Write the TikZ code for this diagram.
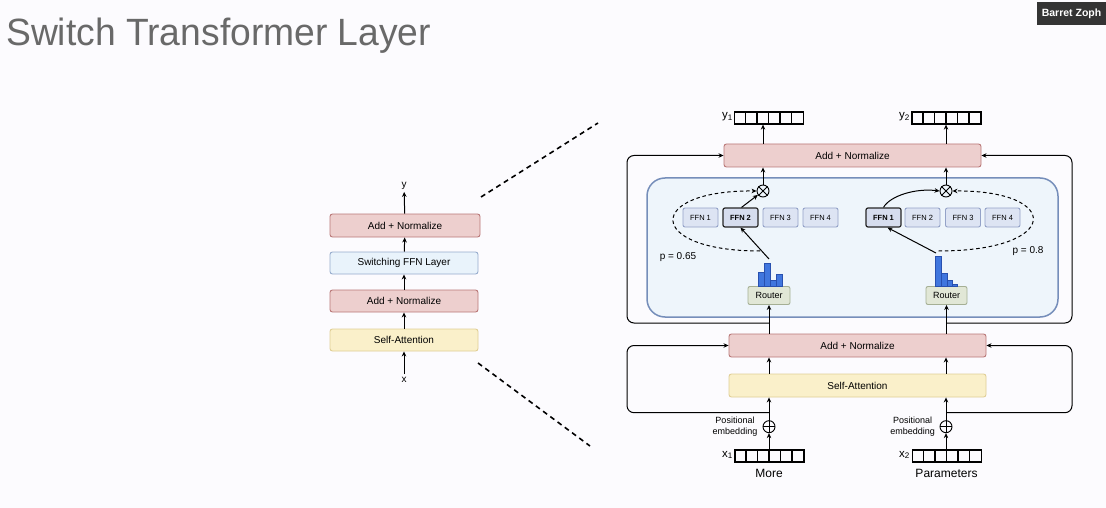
\documentclass[tikz,border=0pt]{standalone}
\usepackage{fontspec}
\setmainfont{Liberation Sans}
\usetikzlibrary{arrows.meta}
\definecolor{bg}{RGB}{252,251,254}
\definecolor{anfill}{RGB}{237,207,206}
\definecolor{anline}{RGB}{185,120,120}
\definecolor{fffill}{RGB}{233,243,251}
\definecolor{ffline}{RGB}{150,172,205}
\definecolor{safill}{RGB}{250,240,202}
\definecolor{saline}{RGB}{224,206,150}
\definecolor{contfill}{RGB}{238,245,251}
\definecolor{contline}{RGB}{118,142,186}
\definecolor{ffnfill}{RGB}{221,228,243}
\definecolor{ffnline}{RGB}{148,162,200}
\definecolor{selfill}{RGB}{214,221,238}
\definecolor{rfill}{RGB}{225,231,214}
\definecolor{rline}{RGB}{165,175,148}
\definecolor{barfill}{RGB}{64,118,222}
\definecolor{barline}{RGB}{40,80,175}
\definecolor{titlecol}{RGB}{105,105,105}
\definecolor{tagbg}{RGB}{52,52,52}
\begin{document}
\begin{tikzpicture}[x=1pt,y=-1pt,
  arr/.style={-{Stealth[length=5pt,width=4.5pt]}, line width=1pt},
  blk/.style={draw, rounded corners=2.5pt, line width=0.9pt, inner sep=0pt, font=\fontsize{10}{12}\selectfont},
  an/.style={blk, fill=anfill, draw=anline},
  sw/.style={blk, fill=fffill, draw=ffline},
  sa/.style={blk, fill=safill, draw=saline},
  ffn/.style={draw=ffnline, fill=ffnfill, rounded corners=2pt, line width=.9pt, minimum width=35pt, minimum height=19pt, inner sep=0pt, font=\fontsize{7.5}{9}\selectfont},
  ffnsel/.style={ffn, draw=black!85, fill=selfill, line width=1.2pt, font=\fontsize{7.5}{9}\selectfont\bfseries},
  router/.style={draw=rline, fill=rfill, rounded corners=2pt, line width=.9pt, minimum width=42pt, minimum height=18pt, inner sep=0pt, font=\fontsize{9}{10}\selectfont},
  op/.style={circle, draw, line width=.9pt, minimum size=12pt, inner sep=0pt},
  vec/.style={draw, line width=1.3pt, minimum width=69pt, minimum height=12pt, inner sep=0pt},
  lbl/.style={font=\fontsize{10}{12}\selectfont, inner sep=0pt},
  vlbl/.style={font=\fontsize{11.5}{13}\selectfont, inner sep=0pt},
  skip/.style={arr, rounded corners=7pt},
  bar/.style={fill=barfill, draw=barline, line width=.5pt},
  dsh/.style={arr, dash pattern=on 3.5pt off 2.8pt},
  zoomdash/.style={line width=1.6pt, dash pattern=on 5pt off 4pt}
]
\fill[bg] (0,0) rectangle (1106,508);
\useasboundingbox (0,0) rectangle (1106,508);

% title and tag
\node[anchor=base west, text=titlecol, font=\fontsize{38}{40}\selectfont, inner sep=0pt, xscale=0.98] (title) at (6,46) {Switch Transformer Layer};
\node[fill=tagbg, text=white, font=\fontsize{10.5}{12}\selectfont\bfseries, minimum width=69pt, minimum height=23pt, inner sep=0pt] (tag) at (1071.5,13.5) {Barret Zoph};

% left stack
\node[an, minimum width=150pt, minimum height=23pt] (lan2) at (405,225.5) {Add + Normalize};
\node[sw, minimum width=148pt, minimum height=22pt] (lffn) at (404,263) {Switching FFN Layer};
\node[an, minimum width=148pt, minimum height=22pt] (lan1) at (404,301) {Add + Normalize};
\node[sa, minimum width=148pt, minimum height=22pt] (lsa) at (404,340) {Self-Attention};
\node[lbl, inner sep=2pt] (ly) at (404,186) {y};
\node[lbl, inner sep=3pt] (lx) at (404,380) {x};
\draw[arr] (lx) -- (lsa);
\draw[arr] (lsa) -- (lan1);
\draw[arr] (lan1) -- (lffn);
\draw[arr] (lffn) -- (lan2);
\draw[arr] (lan2) -- (ly);

% zoom lines
\coordinate (z1a) at (481,197);
\coordinate (z1b) at (598,123);
\coordinate (z2a) at (478,363);
\coordinate (z2b) at (590,446);
\draw[zoomdash] (z1a) -- (z1b);
\draw[zoomdash] (z2a) -- (z2b);

% right: container
\node[draw=contline, fill=contfill, line width=1.5pt, rounded corners=18pt, minimum width=411pt, minimum height=139pt, inner sep=0pt] (cont) at (852.5,247.5) {};

\node[an, minimum width=257pt, minimum height=23pt] (tan) at (852.5,155.5) {Add + Normalize};
\node[an, minimum width=257pt, minimum height=23pt] (man) at (857.5,345.5) {Add + Normalize};
\node[sa, minimum width=257pt, minimum height=23pt] (rsa) at (857.5,385.5) {Self-Attention};

% vectors
\node[vec] (yv1) at (769,118) {};
\node[vec] (yv2) at (946.5,118) {};
\node[vec] (xv1) at (769.5,456) {};
\node[vec] (xv2) at (947,456) {};
\foreach \v in {yv1,yv2,xv1,xv2}{
  \foreach \i in {1,...,5}{
    \draw[line width=1.3pt] ([xshift=\i*11.5pt]\v.north west) -- ([xshift=\i*11.5pt]\v.south west);
  }
}
\node[vlbl, anchor=east] (yl1) at (733,117) {y\textsubscript{1}};
\node[vlbl, anchor=east] (yl2) at (910,117) {y\textsubscript{2}};
\node[vlbl, anchor=east] (xl1) at (733,455) {x\textsubscript{1}};
\node[vlbl, anchor=east] (xl2) at (910,455) {x\textsubscript{2}};
\node[font=\fontsize{12}{14}\selectfont, inner sep=0pt] (more) at (769,473) {More};
\node[font=\fontsize{12}{14}\selectfont, inner sep=0pt] (par) at (946.5,473) {Parameters};

% operators
\node[op] (otL) at (763,191) {};
\node[op] (otR) at (946,191) {};
\foreach \o in {otL,otR}{
  \draw[line width=.9pt] (\o.north west) -- (\o.south east) (\o.north east) -- (\o.south west);
}
\node[op] (opL) at (769,426.7) {};
\node[op] (opR) at (946,426.7) {};
\foreach \o in {opL,opR}{
  \draw[line width=.9pt] (\o.north) -- (\o.south) (\o.west) -- (\o.east);
}
\node[font=\fontsize{9}{11}\selectfont, align=center, inner sep=0pt] (peL) at (735,427) {Positional\\embedding};
\node[font=\fontsize{9}{11}\selectfont, align=center, inner sep=0pt] (peR) at (912.7,427) {Positional\\embedding};

% FFNs
\node[ffn] (ffnL1) at (700.5,217.5) {FFN 1};
\node[ffnsel] (ffnL2) at (740.5,217.5) {FFN 2};
\node[ffn] (ffnL3) at (780.5,217.5) {FFN 3};
\node[ffn] (ffnL4) at (820.5,217.5) {FFN 4};
\node[ffnsel] (ffnR1) at (883.5,217.5) {FFN 1};
\node[ffn] (ffnR2) at (922.5,217.5) {FFN 2};
\node[ffn] (ffnR3) at (963,217.5) {FFN 3};
\node[ffn] (ffnR4) at (1002.5,217.5) {FFN 4};

% routers and histograms
\node[router] (rL) at (769,295.5) {Router};
\node[router, minimum width=41pt] (rR) at (946.5,295.5) {Router};
\draw[bar] (758,286) rectangle (764,272);
\draw[bar] (764,286) rectangle (770,263);
\draw[bar] (770,286) rectangle (776,280);
\draw[bar] (776,286) rectangle (782,274);
\draw[bar] (935,286) rectangle (941,256);
\draw[bar] (941,286) rectangle (947,273);
\draw[bar] (947,286) rectangle (952,280);
\draw[bar] (952,286) rectangle (957,284);

\coordinate (hL) at (769,259);
\coordinate (dL) at (760,251);
\coordinate (hR) at (936,253);
\coordinate (dR) at (938.5,251);

\draw[arr] (hL) -- (ffnL2.south);
\draw[arr] ([xshift=1pt]ffnL2.north) -- (otL);
\draw[dsh] (dL) .. controls (645,251) and (645,190) .. (otL.west);
\draw[arr] (hR) -- ([xshift=4pt]ffnR1.south);
\draw[arr] (ffnR1.north) .. controls (890,196) and (915,188) .. (otR.west);
\draw[dsh] (dR) .. controls (1062,251) and (1062,190) .. (otR.east);
\node[lbl] (pL) at (678,257) {p = 0.65};
\node[lbl] (pR) at (1028,251) {p = 0.8};

\draw[arr] (otL.north) -- (tan.south -| otL);
\draw[arr] (otR.north) -- (tan.south -| otR);
\draw[arr] (tan.north -| otL) -- (yv1.south -| otL);
\draw[arr] (tan.north -| otR) -- (yv2.south -| otR);

% residual loops
\coordinate (jL) at (769,323);
\coordinate (jR) at (946.5,323);
\coordinate (kL) at (769,412.7);
\coordinate (kR) at (946,412.7);
\draw[skip] (jL) -- (627,323) -- (627,155.5) -- (tan.west);
\draw[skip] (jR) -- (1072,323) -- (1072,155.5) -- (tan.east);
\draw[skip] (kL) -- (627,412.7) -- (627,345.5) -- (man.west);
\draw[skip] (kR) -- (1072,412.7) -- (1072,345.5) -- (man.east);

\draw[arr] (man.north -| rL) -- (rL.south);
\draw[arr] (man.north -| rR) -- (rR.south);
\draw[arr] (rsa.north -| opL) -- (man.south -| opL);
\draw[arr] (rsa.north -| opR) -- (man.south -| opR);
\draw[arr] (opL.north) -- (rsa.south -| opL);
\draw[arr] (opR.north) -- (rsa.south -| opR);
\draw[arr] (xv1.north -| opL) -- (opL.south);
\draw[arr] (xv2.north -| opR) -- (opR.south);
\end{tikzpicture}
\end{document}
